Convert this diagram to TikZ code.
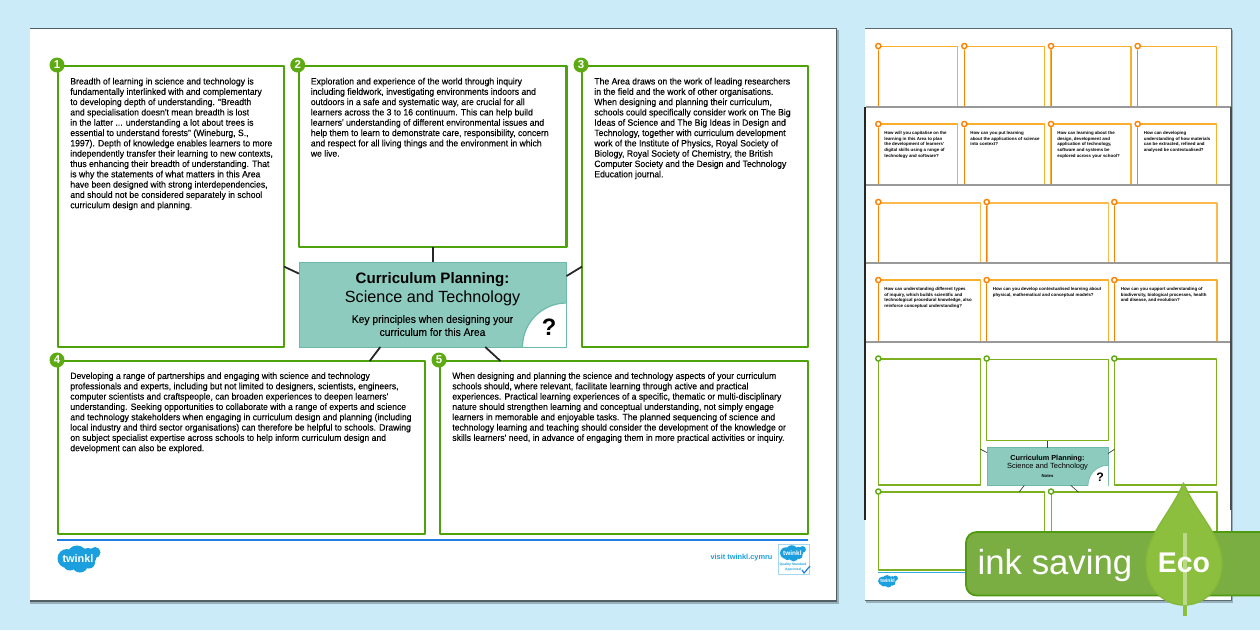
\documentclass[tikz,border=0pt]{standalone}
\usepackage{fontspec}
\setmainfont{Liberation Sans}
\newfontfamily\bodyfont[FakeStretch=0.945,FakeBold=0.08]{Liberation Sans}
\definecolor{skybg}{HTML}{CBEBF8}
\definecolor{cardgreen}{HTML}{4FA30A}
\definecolor{badgegreen}{HTML}{5DAA12}
\definecolor{hubteal}{HTML}{8DCBBF}
\definecolor{hubedge}{HTML}{6DBAAB}
\definecolor{twinklblue}{HTML}{1B9FDE}
\definecolor{ruleblue}{HTML}{1E7FE0}
\definecolor{thumborange}{HTML}{FBAE2C}
\definecolor{thumbgreen}{HTML}{7DB01E}
\definecolor{bannergreen}{HTML}{7AAD42}
\definecolor{banneredge}{HTML}{4F9A10}
\definecolor{leafgreen}{HTML}{8DBF3F}
\definecolor{stemlight}{HTML}{BBD98A}
\tikzset{
	card/.style={draw=cardgreen,line width=1.2pt,fill=white,inner sep=0pt,outer sep=0pt},
	thumbcard/.style={draw=thumbgreen,line width=0.6pt,fill=white,inner sep=0pt,outer sep=0pt},
	hubbox/.style={draw=hubedge,line width=0.5pt,fill=hubteal,inner sep=0pt,outer sep=0pt},
	link/.style={line width=1pt,black!85},
	thumblink/.style={line width=0.4pt,black!75},
	badge/.style={circle,fill=badgegreen,text=white,font=\fontsize{6.5}{7}\selectfont\bfseries,inner sep=0pt,minimum size=0.3cm},
	body/.style={anchor=north west,inner sep=0pt,align=left,font=\bodyfont\fontsize{5.2}{5.87}\selectfont},
	ask/.style={anchor=north west,inner sep=0pt,align=left,font=\fontsize{2.5}{3.4}\selectfont\bfseries}
}
\begin{document}
\begin{tikzpicture}[x=0.02cm,y=-0.02cm,line join=round]
	\useasboundingbox (0,0) rectangle (1260,630);
	\fill[skybg] (0,0) rectangle (1260,630);
	
	\fill[black!25!skybg] (30,30) rectangle (839,604);
	\fill[black!60!skybg] (30,28) rectangle (837,601.5);
	\fill[white] (30,29) rectangle (836,600);
	
	\node[card,minimum width=4.52cm,minimum height=5.62cm] (boxa) at (171,206.5) {};
	\node[card,minimum width=5.35cm,minimum height=3.62cm] (boxb) at (432.75,156.5) {};
	\node[card,minimum width=4.52cm,minimum height=5.62cm] (boxc) at (695,206.5) {};
	\node[card,minimum width=7.35cm,minimum height=3.46cm] (boxd) at (241.5,447.5) {};
	\node[card,minimum width=7.36cm,minimum height=3.46cm] (boxe) at (624,447.5) {};
	\node[hubbox,minimum width=5.35cm,minimum height=1.70cm] (hub) at (432.75,304.5) {};
	
	\begin{scope}
		\clip (hub.north west) rectangle (hub.south east);
		\draw[hubedge,fill=white,line width=0.7pt] (hub.south east) circle (44);
	\end{scope}
	\draw[hubedge,line width=0.5pt] (hub.north west) rectangle (hub.south east);
	\node[inner sep=0pt,font=\fontsize{13.5}{14}\selectfont\bfseries] (hubmark) at (549,327) {?};
	
	\draw[link] (hub.167.56) -- (boxa.-28.56);
	\draw[link] (hub.north) -- (boxb.south);
	\draw[link] (hub.12.44) -- (boxc.208.56);
	\draw[link] (hub.219.95) -- (boxd.34.15);
	\draw[link] (hub.-39.67) -- (boxe.145.74);
	
	\node[badge] (numa) at (57,65) {1};
	\node[badge] (numb) at (297.7,65) {2};
	\node[badge] (numc) at (581,65) {3};
	\node[badge] (numd) at (57,360) {4};
	\node[badge] (nume) at (439,360) {5};
	
	\node[body] (texta) at (70,77.5) {Breadth of learning in science and technology is\\fundamentally interlinked with and complementary\\to developing depth of understanding. "Breadth\\and specialisation doesn't mean breadth is lost\\in the latter ... understanding a lot about trees is\\essential to understand forests" (Wineburg, S.,\\1997). Depth of knowledge enables learners to more\\independently transfer their learning to new contexts,\\thus enhancing their breadth of understanding. That\\is why the statements of what matters in this Area\\have been designed with strong interdependencies,\\and should not be considered separately in school\\curriculum design and planning.};
	\node[body] (textb) at (310.5,77.5) {Exploration and experience of the world through inquiry\\including fieldwork, investigating environments indoors and\\outdoors in a safe and systematic way, are crucial for all\\learners across the 3 to 16 continuum. This can help build\\learners' understanding of different environmental issues and\\help them to learn to demonstrate care, responsibility, concern\\and respect for all living things and the environment in which\\we live.};
	\node[body] (textc) at (594,77.5) {The Area draws on the work of leading researchers\\in the field and the work of other organisations.\\When designing and planning their curriculum,\\schools could specifically consider work on The Big\\Ideas of Science and The Big Ideas in Design and\\Technology, together with curriculum development\\work of the Institute of Physics, Royal Society of\\Biology, Royal Society of Chemistry, the British\\Computer Society and the Design and Technology\\Education journal.};
	\node[body] (textd) at (70,372) {Developing a range of partnerships and engaging with science and technology\\professionals and experts, including but not limited to designers, scientists, engineers,\\computer scientists and craftspeople, can broaden experiences to deepen learners'\\understanding. Seeking opportunities to collaborate with a range of experts and science\\and technology stakeholders when engaging in curriculum design and planning (including\\local industry and third sector organisations) can therefore be helpful to schools. Drawing\\on subject specialist expertise across schools to help inform curriculum design and\\development can also be explored.};
	\node[body] (texte) at (452,372) {When designing and planning the science and technology aspects of your curriculum\\schools should, where relevant, facilitate learning through active and practical\\experiences. Practical learning experiences of a specific, thematic or multi-disciplinary\\nature should strengthen learning and conceptual understanding, not simply engage\\learners in memorable and enjoyable tasks. The planned sequencing of science and\\technology learning and teaching should consider the development of the knowledge or\\skills learners' need, in advance of engaging them in more practical activities or inquiry.};
	
	\node[inner sep=0pt,font=\fontsize{8.6}{10}\selectfont\bfseries] (hubtitle) at (432.5,279.5) {Curriculum Planning:};
	\node[inner sep=0pt,font=\fontsize{9.2}{10}\selectfont] (hubsub) at (432.5,298.5) {Science and Technology};
	\node[inner sep=0pt,align=center,font=\bodyfont\fontsize{6.2}{7.4}\selectfont] (hubnote) at (432.5,325.5) {Key principles when designing your\\curriculum for this Area};
	
	\draw[ruleblue,line width=1.2pt] (57,540) -- (808,540);
	\node[inner sep=0pt,font=\fontsize{4.2}{5}\selectfont\bfseries,text=twinklblue] (visit) at (741.5,558) {visit twinkl.cymru};
	\draw[twinklblue!40,line width=0.4pt] (778,544) rectangle (809,574);
	\node[inner sep=0pt,align=center,font=\fontsize{1.9}{3}\selectfont\bfseries,text=twinklblue] (approved) at (793,567) {Quality Standard\\Approved};
	\draw[ruleblue,line width=0.7pt] (802,570) -- (804,573) -- (810,566);
	
	\fill[black!25!skybg] (866,30) rectangle (1233,603);
	\fill[black!55!skybg] (865,28) rectangle (1232,601);
	\fill[white] (865,29) rectangle (1231,600);
	\foreach \liney in {107,185,263,342} {
		\draw[black!40,line width=1pt] (866,\liney) -- (1231,\liney);
	}
	\draw[black!85,line width=0.8pt] (865,107) -- (865,520);
	\draw[black!70,line width=0.8pt] (1231,107) -- (1231,510);
	
	\foreach \ax/\bx in {878.3/957.7,964.3/1044.3,1051/1131,1137.7/1216.7} {
		\draw[thumborange,line width=0.7pt] (\ax,106) -- (\ax,46.7) -- (\bx,46.7) -- (\bx,106);
		\draw[thumborange,line width=0.7pt] (\ax,184) -- (\ax,124) -- (\bx,124) -- (\bx,184);
		\draw[orange,line width=0.5pt] (\ax,106) -- (\ax,51);
		\draw[orange,line width=0.5pt] (\ax,184) -- (\ax,128);
		\draw[orange,fill=white,line width=0.8pt] (\ax,46) circle (2.6);
		\draw[orange,fill=white,line width=0.8pt] (\ax,124) circle (2.6);
	}
	\foreach \ax/\bx in {878.3/980.3,986.7/1108.3,1114.3/1217} {
		\draw[thumborange!85,line width=0.9pt] (\ax,262) -- (\ax,203) -- (\bx,203) -- (\bx,262);
		\draw[thumborange,line width=0.7pt] (\ax,341) -- (\ax,280) -- (\bx,280) -- (\bx,341);
		\draw[orange,line width=0.5pt] (\ax,262) -- (\ax,206);
		\draw[orange,line width=0.5pt] (\ax,341) -- (\ax,284);
		\draw[orange,fill=white,line width=0.8pt] (\ax,202) circle (2.6);
		\draw[orange,fill=white,line width=0.8pt] (\ax,280) circle (2.6);
	}
	
	\node[ask] (aska) at (884,130.5) {How will you capitalise on the\\learning in this Area to plan\\the development of learners'\\digital skills using a range of\\technology and software?};
	\node[ask] (askb) at (970,130.5) {How can you put learning\\about the applications of science\\into context?};
	\node[ask] (askc) at (1057,130.5) {How can learning about the\\design, development and\\application of technology,\\software and systems be\\explored across your school?};
	\node[ask] (askd) at (1143.5,130.5) {How can developing\\understanding of how materials\\can be extracted, refined and\\analysed be contextualised?};
	\node[ask] (aske) at (884,286.5) {How can understanding different types\\of inquiry, which builds scientific and\\technological procedural knowledge, also\\reinforce conceptual understanding?};
	\node[ask] (askf) at (992.5,286.5) {How can you develop contextualised learning about\\physical, mathematical and conceptual models?};
	\node[ask] (askg) at (1120.5,286.5) {How can you support understanding of\\biodiversity, biological processes, health\\and disease, and evolution?};
	
	\node[thumbcard,minimum width=2.04cm,minimum height=2.52cm] (thumba) at (929.3,422) {};
	\node[thumbcard,minimum width=2.43cm,minimum height=1.634cm] (thumbb) at (1047.5,400) {};
	\node[thumbcard,minimum width=2.05cm,minimum height=2.52cm] (thumbc) at (1165.7,422) {};
	\node[thumbcard,minimum width=3.32cm,minimum height=1.56cm] (thumbd) at (961.3,531) {};
	\node[thumbcard,minimum width=3.32cm,minimum height=1.56cm] (thumbe) at (1134,531) {};
	\node[hubbox,minimum width=2.42cm,minimum height=0.752cm] (thumbhub) at (1047.5,466.5) {};
	
	\begin{scope}
		\clip (thumbhub.north west) rectangle (thumbhub.south east);
		\draw[hubedge,fill=white,line width=0.4pt] (thumbhub.south east) circle (20);
	\end{scope}
	\node[inner sep=0pt,font=\fontsize{7}{7}\selectfont\bfseries] (thumbmark) at (1100,477) {?};
	
	\draw[thumblink] (thumbhub.167.56) -- (thumba.-28.56);
	\draw[thumblink] (thumbhub.north) -- (thumbb.south);
	\draw[thumblink] (thumbhub.12.44) -- (thumbc.208.56);
	\draw[thumblink] (thumbhub.219.95) -- (thumbd.34.15);
	\draw[thumblink] (thumbhub.-39.67) -- (thumbe.145.74);
	
	\foreach \ax/\ay in {878.3/358.5,986.7/358.5,1114.3/358.5,878.3/491.5,1051/491.5} {
		\draw[badgegreen,fill=white,line width=0.8pt] (\ax,\ay) circle (2.6);
	}
	
	\node[inner sep=0pt,font=\fontsize{4.15}{5}\selectfont\bfseries] (thumbtitle) at (1047.5,458.5) {Curriculum Planning:};
	\node[inner sep=0pt,font=\fontsize{4.25}{5}\selectfont] (thumbsub) at (1047.5,467) {Science and Technology};
	\node[inner sep=0pt,font=\fontsize{2.4}{3}\selectfont\bfseries] (thumbnote) at (1047.5,476.5) {Notes};
	
	\draw[twinklblue!90,line width=0.8pt] (878,572.7) -- (1000,572.7);
	
	\foreach \cx/\cy/\zoomk/\tsize [count=\i] in {79/558.5/1/6.2,888/581/0.46/2.9,793/553/0.6/3.7} {
		\begin{scope}[shift={(\cx,\cy)},scale=\zoomk]
			\fill[twinklblue] (-12,0) circle (9.5) (-2,-3) circle (10) (9,-2) circle (8.5) (16,-6) circle (5.5) (1,6) circle (8) (-9,5) circle (7) (10,4) circle (6);
			\node[inner sep=0pt,text=white,font=\fontsize{\tsize}{\tsize}\selectfont\bfseries] (cloudword\i) at (-1,0) {twinkl};
		\end{scope}
	}
	
	\draw[banneredge,fill=bannergreen,line width=1pt,rounded corners=6pt] (1275,532) -- (966,532) -- (966,595.5) -- (1275,595.5);
	\node[inner sep=0pt,text=white,font=\fontsize{19.8}{24}\selectfont] (inkword) at (1055,565) {ink saving};
	
	\draw[leafgreen!85!banneredge,fill=leafgreen,line width=0.8pt] (1183.5,483) .. controls (1170,515) and (1146,535) .. (1146,563) .. controls (1146,590) and (1165,605) .. (1184,605) .. controls (1203,605) and (1222,590) .. (1222,563) .. controls (1222,535) and (1197,515) .. (1183.5,483) -- cycle;
	\draw[stemlight,line width=2.2pt] (1185,533) -- (1185,605);
	\draw[leafgreen,line width=2.2pt] (1185,605) -- (1185,616);
	\node[inner sep=0pt,text=white,font=\fontsize{16.2}{20}\selectfont\bfseries] (ecoword) at (1184,563) {Eco};
\end{tikzpicture}
\end{document}
